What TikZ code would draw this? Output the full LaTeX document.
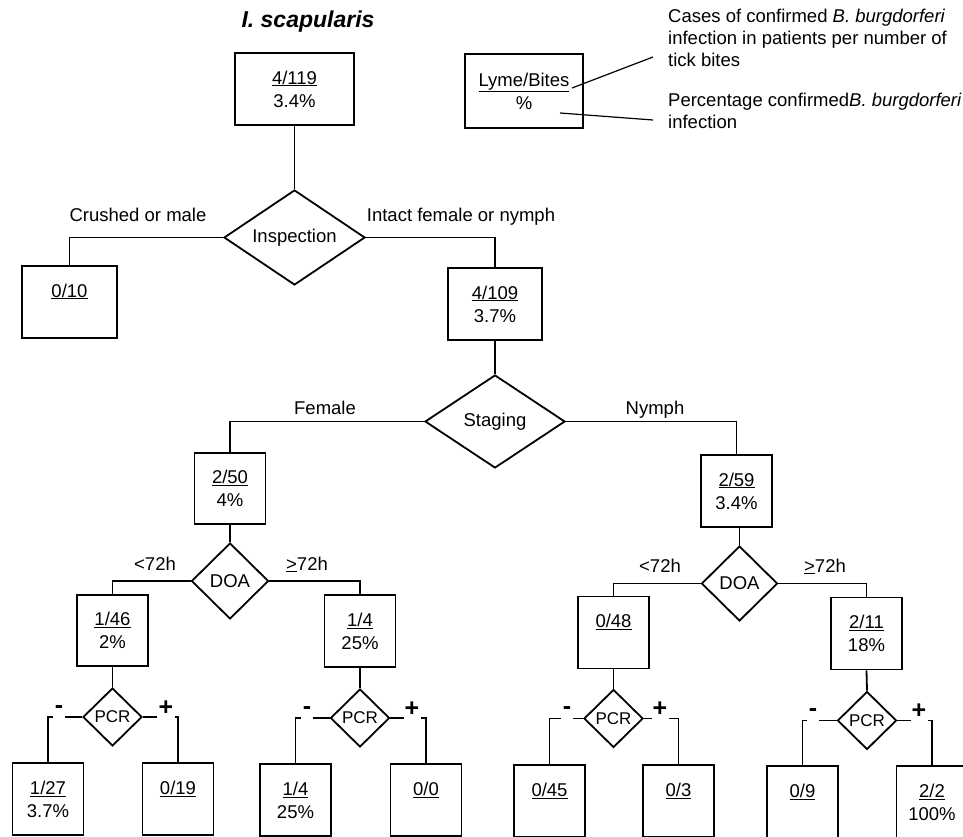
\documentclass[tikz,border=0pt]{standalone}
\usepackage{fontspec}
\setmainfont{Liberation Sans}
\usetikzlibrary{shapes.geometric}
\begin{document}
\begin{tikzpicture}[x=1pt,y=-1pt,
  every node/.style={font=\fontsize{18.5}{23}\selectfont},
  box/.style={draw, line width=1.8pt, inner sep=0pt, align=center, minimum width=71, minimum height=72},
  dia/.style={diamond, draw, line width=1.8pt, inner sep=0pt, aspect=1.5},
  pcr/.style={dia, minimum width=59, minimum height=58, font=\fontsize{17}{20}\selectfont},
  conn/.style={line width=1.8pt},
  lead/.style={line width=1.2pt},
  sign/.style={fill=white, inner sep=0pt, minimum height=20, font=\fontsize{25}{28}\selectfont\bfseries},
  lbl/.style={anchor=base, inner sep=0pt},
  legtext/.style={anchor=north west, align=left, inner sep=0pt, font=\fontsize{18.5}{22}\selectfont}
]
\useasboundingbox (0,0) rectangle (963,837);

% title
\node[lbl, font=\fontsize{23}{27}\selectfont\bfseries\itshape] (title) at (308,28) {I. scapularis};

% legend
\node[box, minimum width=118, minimum height=74] (legend) at (524,91) {\underline{Lyme/Bites}\\\%};
\coordinate (l1a) at (572,88);
\coordinate (l1b) at (653,57);
\coordinate (l2a) at (560,113);
\coordinate (l2b) at (653,120);
\draw[lead] (l1a) -- (l1b);
\draw[lead] (l2a) -- (l2b);
\node[legtext] (leg1) at (668,9) {Cases of confirmed \textit{B. burgdorferi}\\infection in patients per number of\\tick bites};
\node[legtext] (leg2) at (668,93) {Percentage confirmed\textit{B. burgdorferi}\\infection};

% boxes
\node[box, minimum width=119] (root) at (294.5,89) {\underline{4/119}\\3.4\%};
\node[box, minimum width=95] (b010) at (69.5,302) {\underline{0/10}\\\phantom{0\%}};
\node[box, minimum width=94] (b4109) at (495,304) {\underline{4/109}\\3.7\%};
\node[box, minimum height=71] (b250) at (230,488.5) {\underline{2/50}\\4\%};
\node[box] (b259) at (736.5,491) {\underline{2/59}\\3.4\%};
\node[box, minimum height=71] (b146) at (112.5,630.5) {\underline{1/46}\\2\%};
\node[box] (b14a) at (360,631) {\underline{1/4}\\25\%};
\node[box] (b048) at (613.5,632.5) {\underline{0/48}\\\phantom{0\%}};
\node[box] (b211) at (866.5,633.5) {\underline{2/11}\\18\%};
\node[box] (b127) at (48,799) {\underline{1/27}\\3.7\%};
\node[box] (b019) at (178,799) {\underline{0/19}\\\phantom{0\%}};
\node[box] (b14b) at (295.5,800) {\underline{1/4}\\25\%};
\node[box] (b00) at (426,800) {\underline{0/0}\\\phantom{0\%}};
\node[box] (b045) at (549.5,801) {\underline{0/45}\\\phantom{0\%}};
\node[box] (b03) at (678.5,801) {\underline{0/3}\\\phantom{0\%}};
\node[box] (b09) at (802.5,802) {\underline{0/9}\\\phantom{0\%}};
\node[box] (b22) at (932,802) {\underline{2/2}\\100\%};

% diamonds
\node[dia, minimum width=141, minimum height=95] (insp) at (294.5,237.5) {Inspection};
\node[dia, minimum width=140, minimum height=93] (stag) at (495,421.5) {Staging};
\node[dia, minimum width=77, minimum height=76, aspect=1] (doa1) at (230,581) {DOA};
\node[dia, minimum width=76, minimum height=75, aspect=1] (doa2) at (739.5,583.5) {DOA};
\node[pcr] (pcr1) at (112.5,717) {PCR};
\node[pcr] (pcr2) at (360,718) {PCR};
\node[pcr] (pcr3) at (613.5,718.5) {PCR};
\node[pcr] (pcr4) at (867,720.5) {PCR};

% connectors
\draw[conn] (root.south) -- (insp.north);
\draw[conn] (insp.west) -| (b010.north);
\draw[conn] (insp.east) -| (b4109.north);
\draw[conn] (b4109.south) -- (stag.north);
\draw[conn] (stag.west) -| (b250.north);
\draw[conn] (stag.east) -| (b259.north);
\draw[conn] (b250.south) -- (doa1.north);
\draw[conn] (doa1.west) -| (b146.north);
\draw[conn] (doa1.east) -| (b14a.north);
\draw[conn] (doa2.north) -- (doa2.north |- b259.south);
\draw[conn] (doa2.west) -| (b048.north);
\draw[conn] (doa2.east) -| (b211.north);
\draw[conn] (b146.south) -- (pcr1.north);
\draw[conn] (pcr1.west) -| (b127.north);
\draw[conn] (pcr1.east) -| (b019.north);
\draw[conn] (b14a.south) -- (pcr2.north);
\draw[conn] (pcr2.west) -| (b14b.north);
\draw[conn] (pcr2.east) -| (b00.north);
\draw[conn] (b048.south) -- (pcr3.north);
\draw[conn] (pcr3.west) -| (b045.north);
\draw[conn] (pcr3.east) -| (b03.north);
\draw[conn] (b211.south) -- (pcr4.north);
\draw[conn] (pcr4.west) -| (b09.north);
\draw[conn] (pcr4.east) -| (b22.north);

% branch labels
\node[lbl] (lcr) at (138,222) {Crushed or male};
\node[lbl] (lint) at (461,222) {Intact female or nymph};
\node[lbl] (lfem) at (325,414) {Female};
\node[lbl] (lnym) at (655,414) {Nymph};
\node[lbl] (lt1) at (155,570) {<72h};
\node[lbl] (lg1) at (307,570) {\underline{>}72h};
\node[lbl] (lt2) at (660,572) {<72h};
\node[lbl] (lg2) at (825,572) {\underline{>}72h};

% PCR signs
\node[sign, minimum width=12] (m1) at (59,710) {-};
\node[sign, minimum width=18] (p1) at (166,708) {+};
\node[sign, minimum width=12] (m2) at (307,711) {-};
\node[sign, minimum width=17] (p2) at (412,709) {+};
\node[sign, minimum width=12] (m3) at (567,711) {-};
\node[sign, minimum width=17] (p3) at (660,709) {+};
\node[sign, minimum width=12] (m4) at (813,713) {-};
\node[sign, minimum width=17] (p4) at (919,711) {+};
\end{tikzpicture}
\end{document}
